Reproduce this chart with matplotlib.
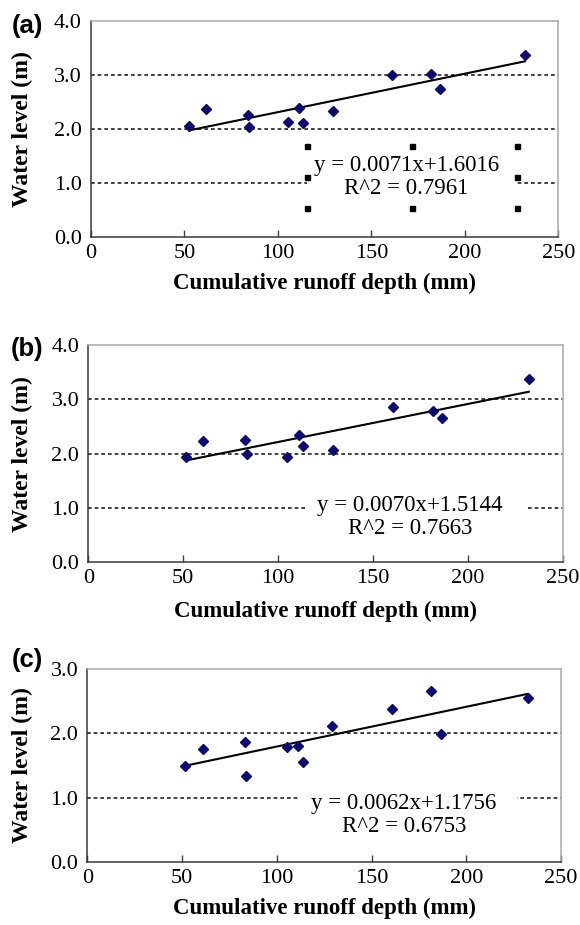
import numpy as np
import matplotlib
matplotlib.use("Agg")
import matplotlib.pyplot as plt
from matplotlib.patches import Rectangle

# Données
runoff_a = [52.4, 61.7, 84.0, 84.4, 105.3, 111.3, 113.6, 129.4, 161.0, 181.8, 186.8, 232.2]
level_a = [2.05, 2.37, 2.25, 2.03, 2.13, 2.38, 2.11, 2.34, 2.99, 3.02, 2.74, 3.36]

runoff_b = [51.7, 60.5, 82.5, 83.5, 104.7, 110.8, 113.1, 128.7, 160.5, 181.4, 186.2, 232.1]
level_b = [1.93, 2.24, 2.26, 2.00, 1.94, 2.34, 2.14, 2.06, 2.85, 2.79, 2.65, 3.37]

runoff_c = [51.4, 60.8, 83.1, 83.7, 105.2, 111.1, 113.7, 129.1, 161.0, 181.5, 186.8, 232.4]
level_c = [1.50, 1.76, 1.87, 1.34, 1.79, 1.81, 1.56, 2.11, 2.38, 2.66, 1.99, 2.55]

# pente, ordonnée, R²
fits = [(0.0071, 1.6016, 0.7961), (0.0070, 1.5144, 0.7663), (0.0062, 1.1756, 0.6753)]
labels = ["(a)", "(b)", "(c)"]
ymax = [4.0, 4.0, 3.0]

# cadre blanc de l'équation (x0, y0, x1, y1) et centre du texte
boxes = [(115.8, 0.55, 227.9, 1.68), (115.2, 0.40, 230.1, 1.25), (112.0, 0.35, 226.6, 1.15)]
text_pos = [(168.6, 1.11), (169.5, 0.83), (167.0, 0.73)]

# positions en pixels : gauche, haut, droite, bas
px = [(91.0, 20.7, 558.3, 237.3),
      (88.3, 345.0, 562.7, 562.3),
      (87.3, 669.3, 561.0, 861.7)]
label_px = [(11.5, 26), (11.0, 349), (11.5, 660)]
xlabel_y = [283, 611.7, 908]

W, H = 580, 925
serif = "Liberation Serif"
fig = plt.figure(figsize=(W / 100, H / 100), dpi=100)

data = [(runoff_a, level_a), (runoff_b, level_b), (runoff_c, level_c)]
for i, (x, y) in enumerate(data):
    l, t, r, bt = px[i]
    ax = fig.add_axes([l / W, 1 - bt / H, (r - l) / W, (bt - t) / H])
    a, b, r2 = fits[i]

    for g in np.arange(1.0, ymax[i], 1.0):
        ax.axhline(g, color="#202020", lw=1.2, ls=(0, (2.2, 1.8)), zorder=1)

    x0, y0, x1, y1 = boxes[i]
    ax.add_patch(Rectangle((x0, y0), x1 - x0, y1 - y0, facecolor="white",
                           edgecolor="none", zorder=2))
    if i == 0:
        # poignées de sélection de la zone de texte
        hx = [x0, (x0 + x1) / 2, x1, x0, x1, x0, (x0 + x1) / 2, x1]
        hy = [y1, y1, y1, (y0 + y1) / 2, (y0 + y1) / 2, y0, y0, y0]
        ax.plot(hx, hy, ls="none", marker="s", ms=3.6, color="black", zorder=5)

    ax.plot(x, y, ls="none", marker="D", ms=4.6, color="#0b0b72", zorder=4)
    xf = np.array([min(x), max(x)])
    ax.plot(xf, a * xf + b, color="black", lw=1.5, zorder=3)

    tx, ty = text_pos[i]
    ax.text(tx, ty, f"y = {a:.4f}x+{b:.4f}\nR^2 = {r2:.4f}", ha="center", va="center",
            family=serif, fontsize=16.5, linespacing=1.15, zorder=6)

    ax.set_xlim(0, 250)
    ax.set_ylim(0, ymax[i])
    ax.set_xticks(np.arange(0, 251, 50))
    yt = np.arange(0, ymax[i] + 0.01, 1.0)
    ax.set_yticks(yt)
    ax.set_yticklabels([f"{v:.1f}" for v in yt])
    ax.tick_params(axis="x", labelsize=16, length=5, width=1, direction="in",
                   pad=5, color="#404040")
    ax.tick_params(axis="y", labelsize=16, length=0, pad=6.5)
    for lab in ax.get_xticklabels() + ax.get_yticklabels():
        lab.set_family(serif)
    for s in ["left", "bottom"]:
        ax.spines[s].set_color("#383838")
        ax.spines[s].set_linewidth(1.1)
    for s in ["top", "right"]:
        ax.spines[s].set_color("#a8a8a8")
        ax.spines[s].set_linewidth(1.1)

    ax.set_xlabel("Cumulative runoff depth (mm)", family=serif, fontweight="bold",
                  fontsize=16.5, va="center")
    ax.xaxis.set_label_coords(0.5, (bt - xlabel_y[i]) / (bt - t))
    ax.set_ylabel("Water level (m)", family=serif, fontweight="bold", fontsize=17,
                  va="center")
    ax.yaxis.set_label_coords((22 - l) / (r - l), 0.5)

    lx, ly = label_px[i]
    fig.text(lx / W, 1 - ly / H, labels[i], ha="left", va="center",
             family="Liberation Sans", fontweight="bold", fontsize=18.5)

fig.savefig("out.png", dpi=100)
